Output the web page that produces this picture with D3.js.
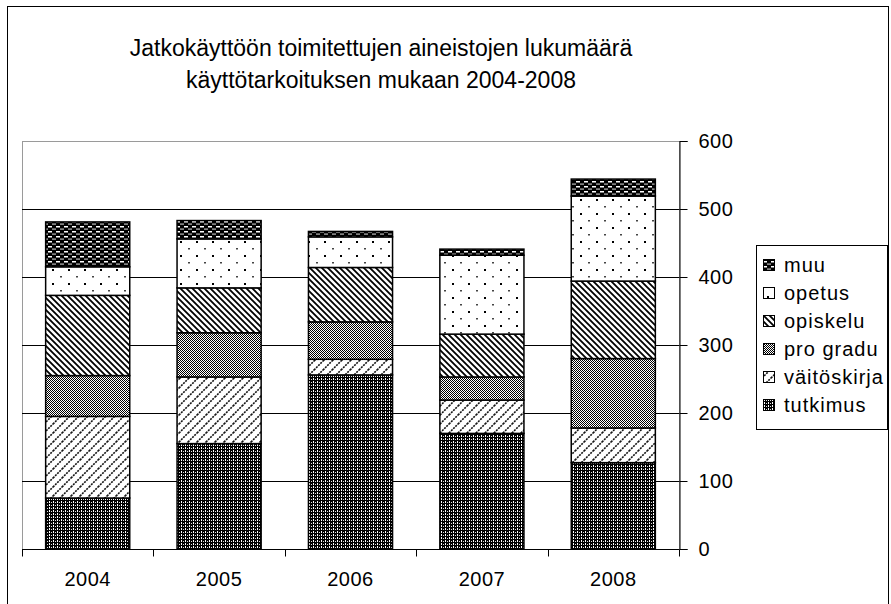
<!DOCTYPE html>
<html>
<head>
<meta charset="utf-8">
<script src="https://cdn.jsdelivr.net/npm/d3@7"></script>
<style>
  body { margin: 0; background: #fff; }
  text { font-family: Arial, "Liberation Sans", sans-serif; fill: #000; }
</style>
</head>
<body>
<div id="chart"></div>
<script>
// data
const years = ['2004', '2005', '2006', '2007', '2008'];
const tutkimus    = [75, 155, 256, 170, 127];
const vaitoskirja = [120, 98, 23, 49, 51];
const proGradu    = [60, 65, 55, 34, 102];
const opiskelu    = [118, 66, 80, 63, 114];
const opetus      = [42, 72, 45, 116, 125];
const muu         = [66, 27, 8, 9, 25];
const seriesNames = ['tutkimus', 'väitöskirja', 'pro gradu', 'opiskelu', 'opetus', 'muu'];
const yTicks = [0, 100, 200, 300, 400, 500, 600];
const titleLines = ['Jatkokäyttöön toimitettujen aineistojen lukumäärä', 'käyttötarkoituksen mukaan 2004-2008'];

const seriesValues = [tutkimus, vaitoskirja, proGradu, opiskelu, opetus, muu];
const rows = years.map((y, i) => {
  const r = { year: y };
  seriesNames.forEach((s, k) => { r[s] = seriesValues[k][i]; });
  return r;
});

const W = 891, H = 604;
const plot = { left: 22, right: 679, top: 141, bottom: 549 };

const svg = d3.select('#chart').append('svg')
  .attr('width', W).attr('height', H);

// fill patterns
const defs = svg.append('defs');
function pattern(id, w, h) {
  return defs.append('pattern').attr('id', id)
    .attr('patternUnits', 'userSpaceOnUse')
    .attr('width', w).attr('height', h);
}
let p;
p = pattern('p0', 4, 3);
p.append('rect').attr('width', 4).attr('height', 3).attr('fill', '#000');
p.append('rect').attr('x', 1).attr('y', 0).attr('width', 1).attr('height', 2).attr('fill', '#fff');
p.append('rect').attr('x', 3).attr('y', 1).attr('width', 1).attr('height', 1).attr('fill', '#ddd');

p = pattern('p1', 9, 9);
p.append('rect').attr('width', 9).attr('height', 9).attr('fill', '#fff');
p.append('path').attr('d', 'M-1,10 L10,-1 M-3,3 L3,-3 M6,12 L12,6')
  .attr('stroke', '#111').attr('stroke-width', 1.6).attr('stroke-dasharray', '2,1');

p = pattern('p2', 2, 2);
p.append('rect').attr('width', 2).attr('height', 2).attr('fill', '#fff');
p.append('rect').attr('width', 1).attr('height', 1).attr('fill', '#000');
p.append('rect').attr('x', 1).attr('y', 1).attr('width', 1).attr('height', 1).attr('fill', '#000');

p = pattern('p3', 6, 6);
p.append('rect').attr('width', 6).attr('height', 6).attr('fill', '#fff');
p.append('path').attr('d', 'M-1,5 L1,7 M0,0 L6,6 M5,-1 L7,1')
  .attr('stroke', '#000').attr('stroke-width', 1.8);

p = pattern('p4', 16, 14);
p.append('rect').attr('width', 16).attr('height', 14).attr('fill', '#fff');
p.append('rect').attr('x', 4).attr('y', 3).attr('width', 2).attr('height', 2).attr('fill', '#000');
p.append('rect').attr('x', 12).attr('y', 10).attr('width', 2).attr('height', 1.5).attr('fill', '#444');

p = pattern('p5', 8, 5);
p.append('rect').attr('width', 8).attr('height', 5).attr('fill', '#000');
p.append('rect').attr('x', 0).attr('y', 1).attr('width', 4).attr('height', 1.5).attr('fill', '#fff');
p.append('rect').attr('x', 4).attr('y', 3.5).attr('width', 4).attr('height', 1.2).attr('fill', '#bbb');

const fills = seriesNames.map((s, i) => `url(#p${i})`);

// outer chart border
svg.append('rect')
  .attr('x', 7.5).attr('y', 6.5).attr('width', 881).attr('height', 620)
  .attr('fill', '#fff').attr('stroke', '#000').attr('stroke-width', 1);

// title
const title = svg.append('text').attr('text-anchor', 'middle')
  .style('font-size', '23px');
titleLines.forEach((t, i) => {
  title.append('tspan').attr('x', 381).attr('y', 56 + i * 32).text(t);
});

const x = d3.scaleBand().domain(years)
  .range([plot.left, plot.right])
  .paddingInner(0.36).paddingOuter(0.18);
const y = d3.scaleLinear().domain([0, 600]).range([plot.bottom, plot.top]);

// plot area border (grey)
svg.append('rect')
  .attr('x', plot.left + 0.5).attr('y', plot.top + 0.5)
  .attr('width', plot.right - plot.left).attr('height', plot.bottom - plot.top)
  .attr('fill', '#fff').attr('stroke', '#9a9a9a');

// gridlines
svg.append('g').selectAll('line')
  .data(yTicks.filter(d => d > 0 && d < 600))
  .join('line')
  .attr('x1', plot.left).attr('x2', plot.right)
  .attr('y1', d => Math.round(y(d)) + 0.5).attr('y2', d => Math.round(y(d)) + 0.5)
  .attr('stroke', '#000');

// stacked bars
const stack = d3.stack().keys(seriesNames)(rows);
svg.append('g').selectAll('g')
  .data(stack)
  .join('g')
  .attr('fill', (d, i) => fills[i])
  .selectAll('rect')
  .data(d => d)
  .join('rect')
  .attr('x', d => x(d.data.year))
  .attr('width', x.bandwidth())
  .attr('y', d => y(d[1]))
  .attr('height', d => y(d[0]) - y(d[1]))
  .attr('stroke', '#000')
  .attr('stroke-width', 1.5);

// right value axis
const yAxis = svg.append('g')
  .attr('transform', `translate(${plot.right + 0.5},0)`)
  .call(d3.axisRight(y).tickValues(yTicks).tickSize(8).tickPadding(11));
yAxis.select('.domain').attr('stroke', '#000');
yAxis.selectAll('.tick line').attr('stroke', '#000');
yAxis.selectAll('.tick text')
  .style('font-size', '20px')
  .style('letter-spacing', '0.5px')
  .style('font-family', 'Arial, "Liberation Sans", sans-serif');

// category axis
const bottom = svg.append('g').attr('transform', `translate(0,${plot.bottom + 0.5})`);
bottom.append('line').attr('x1', plot.left).attr('x2', plot.right).attr('stroke', '#000');
const bounds = [plot.left].concat(years.map(yr => x(yr) + x.bandwidth() / 2 + x.step() / 2));
bottom.selectAll('.tk').data(bounds).join('line')
  .attr('x1', d => Math.round(d) + 0.5).attr('x2', d => Math.round(d) + 0.5)
  .attr('y1', 0).attr('y2', 7).attr('stroke', '#000');
bottom.selectAll('text').data(years).join('text')
  .attr('x', d => x(d) + x.bandwidth() / 2)
  .attr('y', 36)
  .attr('text-anchor', 'middle')
  .style('font-size', '20px')
  .style('letter-spacing', '0.5px')
  .text(d => d);

// legend
const legend = svg.append('g');
legend.append('rect')
  .attr('x', 756.5).attr('y', 245.5).attr('width', 131).attr('height', 184)
  .attr('fill', '#fff').attr('stroke', '#000');
const legendOrder = seriesNames.map((s, i) => i).reverse();
const items = legend.selectAll('.item').data(legendOrder).join('g')
  .attr('transform', (d, k) => `translate(763,${265 + k * 28})`);
items.append('rect')
  .attr('x', 0.5).attr('y', -5.5).attr('width', 11).attr('height', 11)
  .attr('fill', d => fills[d]).attr('stroke', '#000');
items.append('text')
  .attr('x', 21).attr('y', 0).attr('dy', '0.35em')
  .style('font-size', '20px')
  .style('letter-spacing', '1px')
  .text(d => seriesNames[d]);
</script>
</body>
</html>
